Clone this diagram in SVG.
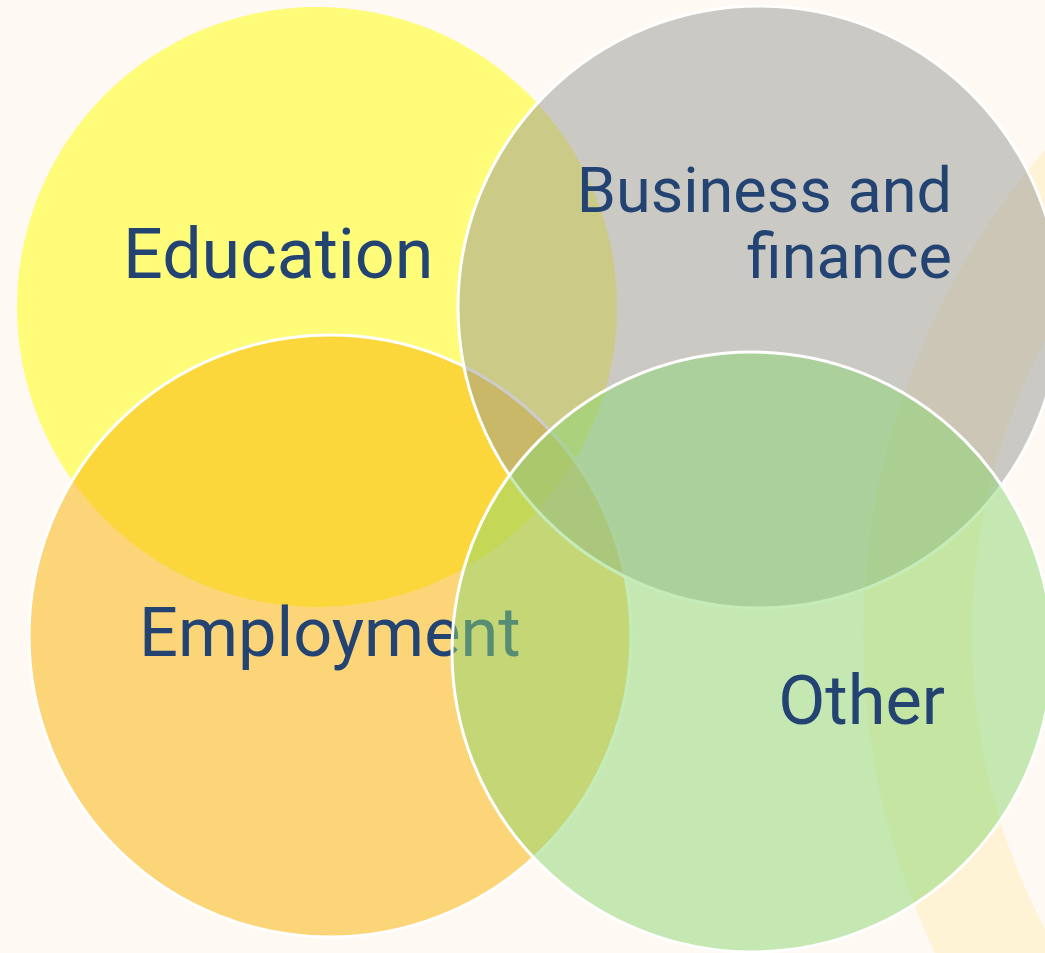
<svg xmlns="http://www.w3.org/2000/svg" width="1045" height="953" viewBox="0 0 1045 953">
<style>
.c{stroke:#ffffff;stroke-width:3;fill-opacity:0.5}
.t{font-family:Roboto,"Liberation Sans",sans-serif;fill:#234373}
</style>
<rect width="1045" height="953" fill="#FEF9F3"/>
<circle cx="1600" cy="635" r="682.5" fill="none" stroke="#FFF3D5" stroke-width="109"/>
<g id="education">
<circle cx="317" cy="307" r="300" fill="#FFFF00" fill-opacity="0.5"/>
<text class="t" x="123" y="278" font-size="70">Education</text>
</g>
<g id="employment">
<circle class="c" cx="330" cy="636" r="301" fill="#FAB200"/>
<text class="t" x="139" y="656" font-size="68.5">Employment</text>
</g>
<g id="business">
<circle class="c" cx="759" cy="307" r="301" fill="#989A96"/>
<text class="t" x="952" y="212" font-size="63" text-anchor="end">Business and</text>
<text class="t" x="952" y="278" font-size="63" text-anchor="end">finance</text>
</g>
<g id="other">
<circle class="c" cx="752" cy="652" r="300" fill="#8CD872"/>
<text class="t" x="945" y="724" font-size="68.5" text-anchor="end">Other</text>
</g>
<g id="connectors"/>
</svg>
